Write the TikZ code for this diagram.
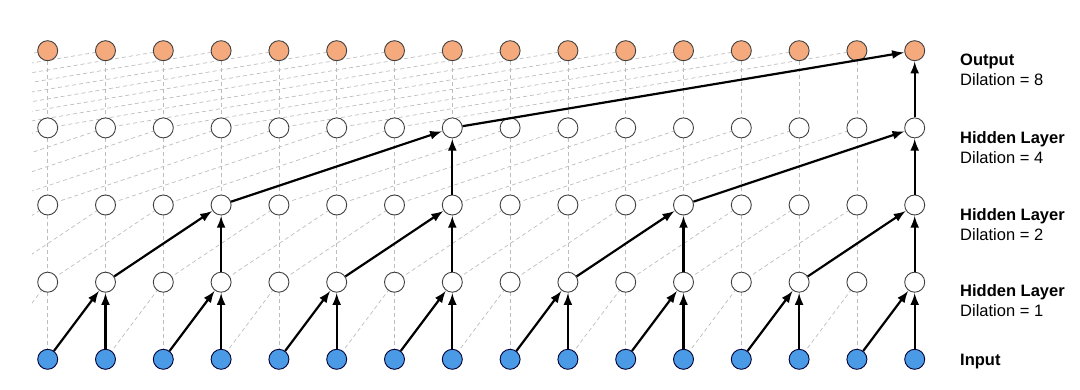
\documentclass[tikz,border=0pt]{standalone}
\usepackage{fontspec}
\setmainfont{Liberation Sans}
\usetikzlibrary{arrows.meta}
\definecolor{outc}{HTML}{F4AA7C}
\definecolor{inc}{HTML}{4A9AE6}
\definecolor{dashc}{HTML}{BDBDBD}
\tikzset{
  unit/.style={circle, draw=black!75, line width=0.9pt, minimum size=20pt, inner sep=0pt, fill=white},
  outunit/.style={unit, fill=outc},
  inunit/.style={unit, fill=inc, draw=black!80!blue},
  grid/.style={dashc, dashed, dash pattern=on 4pt off 3pt, line width=0.7pt},
  conn/.style={line width=2.2pt, -{Latex[length=12pt,width=9pt]}, shorten >=0.3pt},
  ttl/.style={anchor=base west, inner sep=0pt, font=\fontsize{16.5}{19}\selectfont\bfseries},
  sub/.style={anchor=base west, inner sep=0pt, font=\fontsize{16.5}{19}\selectfont},
}
\begin{document}
\begin{tikzpicture}[x=1pt,y=-1pt]
\useasboundingbox (0,0) rectangle (1080,390);
% row y positions: 0 output, 1 h4, 2 h2, 3 h1, 4 input
\def\rowy#1{\ifcase#1 50.7\or 127.9\or 205\or 282.2\or 359.3\fi}
% virtual coordinates (off the left edge) and real ones
\foreach \r in {0,...,4}{
  \foreach \c in {-8,...,15}{
    \coordinate (p-\r-\c) at ({47.7+57.8*\c},{\rowy{\r}});
  }
}
% dashed grid
\begin{scope}
\clip (32,0) rectangle (1080,390);
\foreach \r/\d in {0/8,1/4,2/2,3/1}{
  \pgfmathtruncatemacro{\lo}{\r+1}
  \foreach \c in {0,...,15}{
    \draw[grid] (p-\lo-\c) -- (p-\r-\c);
    \pgfmathtruncatemacro{\src}{\c-\d}
    \draw[grid] (p-\lo-\src) -- (p-\r-\c);
  }
}
\end{scope}
% nodes
\foreach \c in {0,...,15}{
  \node[outunit] (n-0-\c) at (p-0-\c) {};
  \node[unit] (n-1-\c) at (p-1-\c) {};
  \node[unit] (n-2-\c) at (p-2-\c) {};
  \node[unit] (n-3-\c) at (p-3-\c) {};
  \node[inunit] (n-4-\c) at (p-4-\c) {};
}
% arrows: input -> hidden 1
\foreach \c in {1,3,...,15}{
  \pgfmathtruncatemacro{\s}{\c-1}
  \draw[conn] (n-4-\s) -- (n-3-\c);
  \draw[conn] (n-4-\c) -- (n-3-\c);
}
% hidden 1 -> hidden 2
\foreach \c in {3,7,11,15}{
  \pgfmathtruncatemacro{\s}{\c-2}
  \draw[conn] (n-3-\s) -- (n-2-\c);
  \draw[conn] (n-3-\c) -- (n-2-\c);
}
% hidden 2 -> hidden 4
\foreach \c in {7,15}{
  \pgfmathtruncatemacro{\s}{\c-4}
  \draw[conn] (n-2-\s) -- (n-1-\c);
  \draw[conn] (n-2-\c) -- (n-1-\c);
}
% hidden 4 -> output
\draw[conn] (n-1-7) -- (n-0-15);
\draw[conn] (n-1-15) -- (n-0-15);
% labels
\node[ttl] (t0) at (960,66) {Output};
\node[sub] (s0) at (960,85.5) {Dilation = 8};
\node[ttl] (t1) at (960,143.3) {Hidden Layer};
\node[sub] (s1) at (960,163.3) {Dilation = 4};
\node[ttl] (t2) at (960,220.7) {Hidden Layer};
\node[sub] (s2) at (960,241) {Dilation = 2};
\node[ttl] (t3) at (960,297) {Hidden Layer};
\node[sub] (s3) at (960,317) {Dilation = 1};
\node[ttl] (t4) at (960,365.7) {Input};
\end{tikzpicture}
\end{document}
